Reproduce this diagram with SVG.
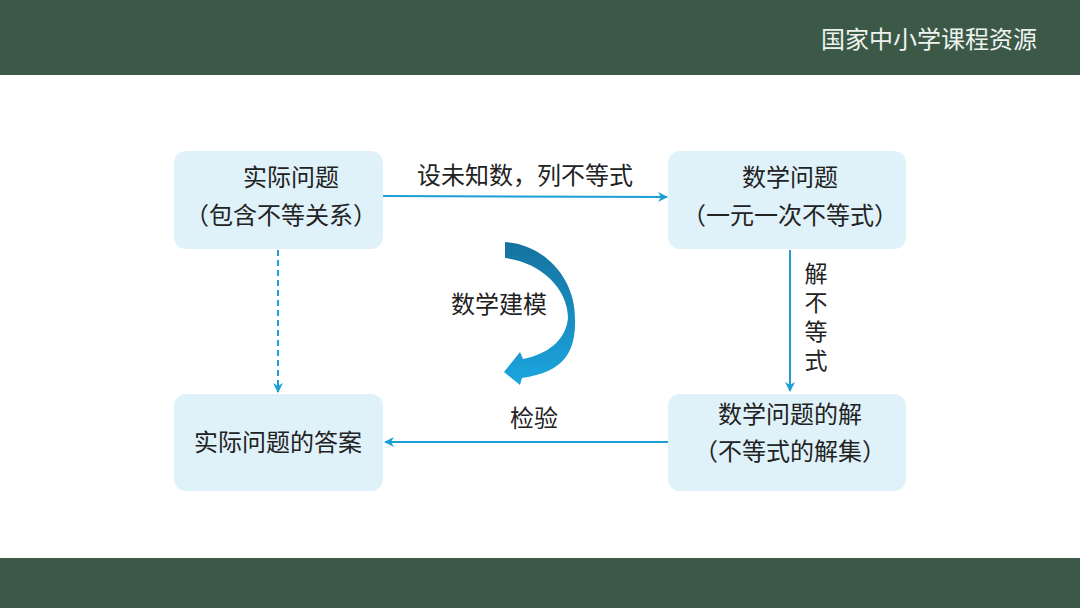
<svg xmlns="http://www.w3.org/2000/svg" width="1080" height="608" viewBox="0 0 1080 608">
<defs>
<style>
.box{fill:#dff1f9;}
.t{font-family:"Noto Sans CJK SC","Noto Sans CJK JP",sans-serif;font-size:24px;fill:#222;text-anchor:middle;}
.line{stroke:#1b9fd6;stroke-width:2;fill:none;}
</style>
<marker id="ah" viewBox="0 0 10 10" refX="9" refY="5" markerWidth="10" markerHeight="10" markerUnits="userSpaceOnUse" orient="auto">
<path d="M0,0 L10,5 L0,10 L3,5 Z" fill="#1b9fd6"/>
</marker>
<linearGradient id="cg" x1="0" y1="0" x2="0" y2="1">
<stop offset="0" stop-color="#15729e"/>
<stop offset="1" stop-color="#1ca6e0"/>
</linearGradient>
</defs>
<rect x="0" y="0" width="1080" height="608" fill="#ffffff"/>
<g id="header">
<rect x="0" y="0" width="1080" height="75" fill="#3b5946"/>
<text x="929" y="48" font-family="Noto Sans CJK SC,sans-serif" font-size="24" fill="#eef3ef" text-anchor="middle">国家中小学课程资源</text>
</g>
<rect x="0" y="558" width="1080" height="50" fill="#3b5946"/>
<g id="connectors">
<line class="line" x1="383" y1="196" x2="667" y2="197" marker-end="url(#ah)"/>
<line class="line" x1="278" y1="250" x2="278" y2="392" stroke-dasharray="6,4" marker-end="url(#ah)"/>
<line class="line" x1="790" y1="250" x2="790" y2="391" marker-end="url(#ah)"/>
<line class="line" x1="668" y1="442" x2="385" y2="442" marker-end="url(#ah)"/>
<text class="t" x="525" y="184">设未知数，列不等式</text>
<text class="t" x="816" y="262" writing-mode="tb" style="text-anchor:start;letter-spacing:6px;font-size:23px">解不等式</text>
<text class="t" x="534" y="427">检验</text>
</g>
<g id="modeling">
<path d="M505,242 C542,244 575,276 575,318 C576,350 566,372 522,378 L520,385 L504,372 L520,352 L523,359 C548,354 566,340 568,318 C568,288 540,262 505,258 Z" fill="url(#cg)"/>
<text class="t" x="499" y="313">数学建模</text>
</g>
<g id="n1">
<rect class="box" x="174" y="151" width="209" height="98" rx="12"/>
<text class="t" x="291" y="186">实际问题</text>
<text class="t" x="281" y="224">（包含不等关系）</text>
</g>
<g id="n2">
<rect class="box" x="668" y="151" width="238" height="98" rx="12"/>
<text class="t" x="790" y="186">数学问题</text>
<text class="t" x="790" y="224">（一元一次不等式）</text>
</g>
<g id="n3">
<rect class="box" x="174" y="394" width="209" height="97" rx="12"/>
<text class="t" x="278" y="451">实际问题的答案</text>
</g>
<g id="n4">
<rect class="box" x="668" y="394" width="238" height="97" rx="12"/>
<text class="t" x="790" y="423">数学问题的解</text>
<text class="t" x="790" y="460">（不等式的解集）</text>
</g>
</svg>
